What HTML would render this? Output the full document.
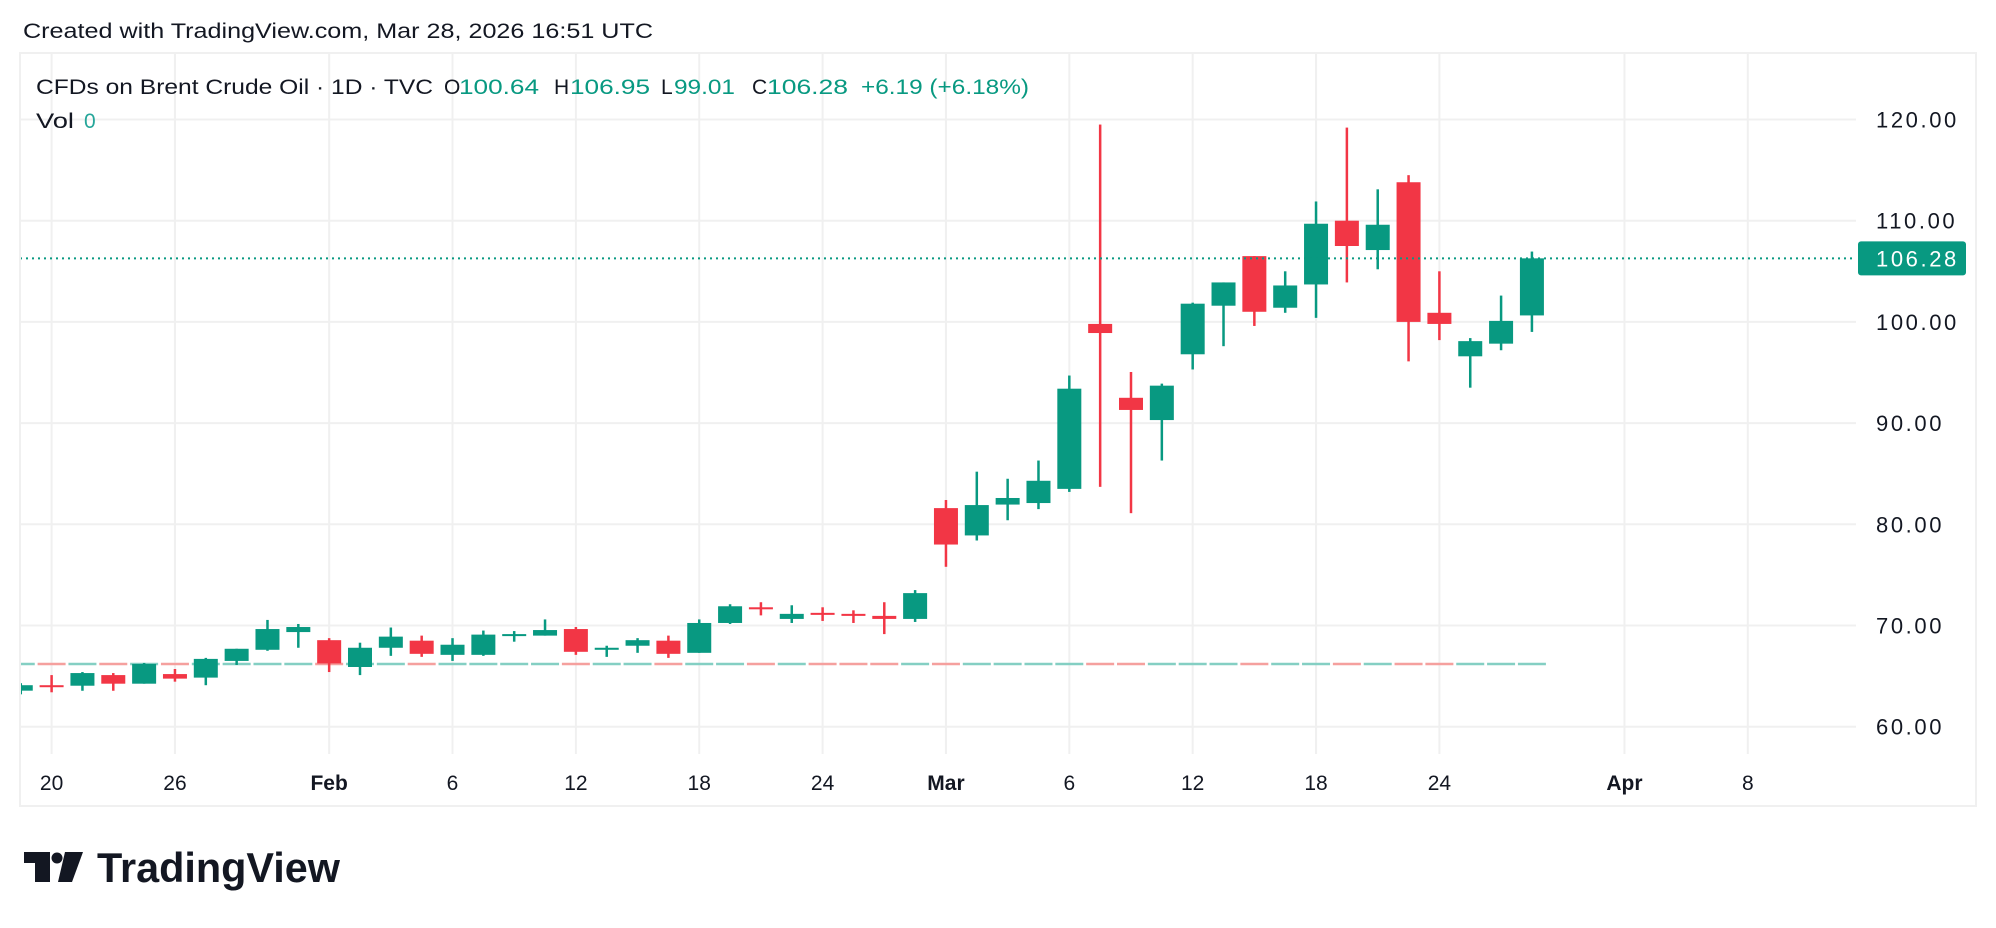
<!DOCTYPE html>
<html><head><meta charset="utf-8"><style>
html,body{margin:0;padding:0;background:#fff;}
svg{display:block;font-family:"Liberation Sans",sans-serif;}
</style></head><body>
<svg id="chart" width="1996" height="928" viewBox="0 0 1996 928" xmlns="http://www.w3.org/2000/svg">
<rect x="0" y="0" width="1996" height="928" fill="#ffffff"/>
<text x="23" y="38" font-size="21" fill="#131722" textLength="630" lengthAdjust="spacingAndGlyphs">Created with TradingView.com, Mar 28, 2026 16:51 UTC</text>
<rect x="20" y="53" width="1956" height="753" fill="none" stroke="#f0f0f0" stroke-width="2"/>
<g id="grid"></g>
<g id="marks"></g>
<g id="axes"></g>
<g font-size="21">
<text x="36" y="94" fill="#131722" textLength="397" lengthAdjust="spacingAndGlyphs">CFDs on Brent Crude Oil · 1D · TVC</text>
<text x="444" y="94" fill="#131722">O</text><text x="459" y="94" fill="#089981" textLength="80" lengthAdjust="spacingAndGlyphs">100.64</text>
<text x="554" y="94" fill="#131722">H</text><text x="570" y="94" fill="#089981" textLength="80" lengthAdjust="spacingAndGlyphs">106.95</text>
<text x="661" y="94" fill="#131722">L</text><text x="674" y="94" fill="#089981" textLength="61" lengthAdjust="spacingAndGlyphs">99.01</text>
<text x="752" y="94" fill="#131722">C</text><text x="767" y="94" fill="#089981" textLength="81" lengthAdjust="spacingAndGlyphs">106.28</text>
<text x="861" y="94" fill="#089981" textLength="168" lengthAdjust="spacingAndGlyphs">+6.19 (+6.18%)</text>
<text x="36" y="128" fill="#131722" textLength="38" lengthAdjust="spacingAndGlyphs">Vol</text>
<text x="84" y="128" fill="#26a69a">0</text>
</g>
<g>
<rect x="24" y="852" width="26" height="11" fill="#131722"/>
<rect x="35" y="852" width="15" height="30" fill="#131722"/>
<circle cx="57" cy="858" r="5.5" fill="#131722"/>
<polygon points="65,852 83,852 72,882 58,882" fill="#131722"/>
<text x="97" y="882" font-size="42" font-weight="bold" fill="#131722" textLength="243" lengthAdjust="spacingAndGlyphs">TradingView</text>
</g>
</svg>
<script>
const dayIndex=[-1,0,1,2,3,4,5,6,7,8,9,10,11,12,13,14,15,16,17,18,19,20,21,22,23,24,25,26,27,28,29,30,31,32,33,34,35,36,37,38,39,40,41,42,43,44,45,46,47,48];
const opens=[63.56,64.1,64.05,65.1,64.25,65.2,64.85,66.5,67.6,69.35,68.55,65.9,67.8,68.5,67.1,67.1,69.0,69.0,69.65,67.6,68.0,68.5,67.3,70.25,71.8,70.65,71.25,71.15,70.95,70.65,81.6,78.9,81.95,82.1,83.5,99.8,92.5,90.3,96.8,101.6,106.5,101.4,103.7,110.0,107.1,113.8,100.9,96.6,97.85,100.64];
const highs=[64.3,65.1,65.4,65.3,66.3,65.7,66.8,67.7,70.55,70.15,68.75,68.3,69.8,69.0,68.75,69.5,69.45,70.6,69.85,68.0,68.75,69.0,70.6,72.1,72.3,72.0,71.8,71.5,72.3,73.5,82.4,85.2,84.5,86.3,94.7,119.5,95.05,93.9,101.9,103.9,106.5,105.0,111.9,119.2,113.1,114.5,105.0,98.4,102.6,106.95];
const lows=[63.2,63.4,63.55,63.55,64.25,64.45,64.1,66.1,67.5,67.8,65.4,65.1,67.0,66.9,66.5,67.0,68.4,69.0,67.1,66.9,67.3,66.8,67.3,70.15,71.0,70.25,70.45,70.25,69.15,70.35,75.8,78.4,80.4,81.5,83.2,83.7,81.1,86.3,95.3,97.6,99.6,100.9,100.4,103.9,105.2,96.1,98.2,93.5,97.2,99.01];
const closes=[64.1,64.0,65.3,64.25,66.2,64.75,66.7,67.7,69.65,69.85,66.25,67.8,68.9,67.2,68.1,69.1,69.15,69.55,67.4,67.8,68.55,67.2,70.25,71.9,71.6,71.15,71.05,70.95,70.65,73.2,78.0,81.9,82.6,84.3,93.4,98.9,91.3,93.7,101.8,103.9,101.0,103.6,109.7,107.5,109.6,100.0,99.8,98.1,100.1,106.28];
const priceTicks=[60,70,80,90,100,110,120];
const timeTickIndex=[0,4,9,13,17,21,25,29,33,37,41,45,51,55];
const timeTickLabels=["20","26","Feb","6","12","18","24","Mar","6","12","18","24","Apr","8"];
const timeTickBold=[false,false,true,false,false,false,false,true,false,false,false,false,true,false];
const lastPrice=106.28;
const volLineValue=66.2;

const NS="http://www.w3.org/2000/svg";
const GREEN="#089981",RED="#f23645";
const xS=i=>51.6+30.84*i;
const yS=p=>119.5+(120-p)*10.12;
const PL=20,PR=1856,PT=53,PB=754;
function mk(tag,attrs,parent){const e=document.createElementNS(NS,tag);for(const k in attrs)e.setAttribute(k,attrs[k]);parent.appendChild(e);return e;}
const grid=document.getElementById('grid'),marks=document.getElementById('marks'),axes=document.getElementById('axes');
const clip=mk('clipPath',{id:'pc'},document.getElementById('chart'));
mk('rect',{x:PL+1,y:PT,width:PR-PL,height:PB-PT},clip);
marks.setAttribute('clip-path','url(#pc)');

priceTicks.forEach(p=>{
  const l=mk('line',{x1:PL,x2:PR,y1:yS(p),y2:yS(p),stroke:'#f0f0f0','stroke-width':2},grid);
  
  
  const t=mk('text',{x:1876,y:yS(p)+8,'font-size':22,'letter-spacing':2.6,fill:'#131722'},axes);
  t.textContent=p.toFixed(2);
  
  
});
timeTickIndex.forEach((ix,k)=>{
  const l=mk('line',{x1:xS(ix),x2:xS(ix),y1:PT,y2:PB,stroke:'#f0f0f0','stroke-width':2},grid);
  
  
  const t=mk('text',{x:xS(ix),y:790,'font-size':21,'text-anchor':'middle',fill:'#131722','font-weight':timeTickBold[k]?'bold':'normal'},axes);
  t.textContent=timeTickLabels[k];
  
  
});
dayIndex.forEach((ix,k)=>{
  const up=closes[k]>=opens[k];
  const s=mk('line',{x1:xS(ix)-14,x2:xS(ix)+14,y1:yS(volLineValue),y2:yS(volLineValue),stroke:up?'#84cfc3':'#f5a09e','stroke-width':2.5},marks);
  
  
});
dayIndex.forEach((ix,k)=>{
  const up=closes[k]>=opens[k];const c=up?GREEN:RED;
  const w=mk('rect',{x:xS(ix)-1.25,y:yS(highs[k]),width:2.5,height:yS(lows[k])-yS(highs[k]),fill:c},marks);
  
  
  const top=yS(Math.max(opens[k],closes[k])),bot=yS(Math.min(opens[k],closes[k]));
  const b=mk('rect',{x:xS(ix)-12,y:top,width:24,height:Math.max(2,bot-top),fill:c},marks);
  
  
});
const dl=mk('line',{x1:PL,x2:PR,y1:yS(lastPrice),y2:yS(lastPrice),stroke:GREEN,'stroke-width':2,'stroke-dasharray':'2 4'},marks);


const bx=mk('rect',{x:1858,y:yS(lastPrice)-17,width:108,height:34,rx:3,fill:GREEN},axes);


const bt=mk('text',{x:1876,y:yS(lastPrice)+8,'font-size':22,'letter-spacing':2.6,fill:'#ffffff'},axes);
bt.textContent=lastPrice.toFixed(2);


</script>
</body></html>
